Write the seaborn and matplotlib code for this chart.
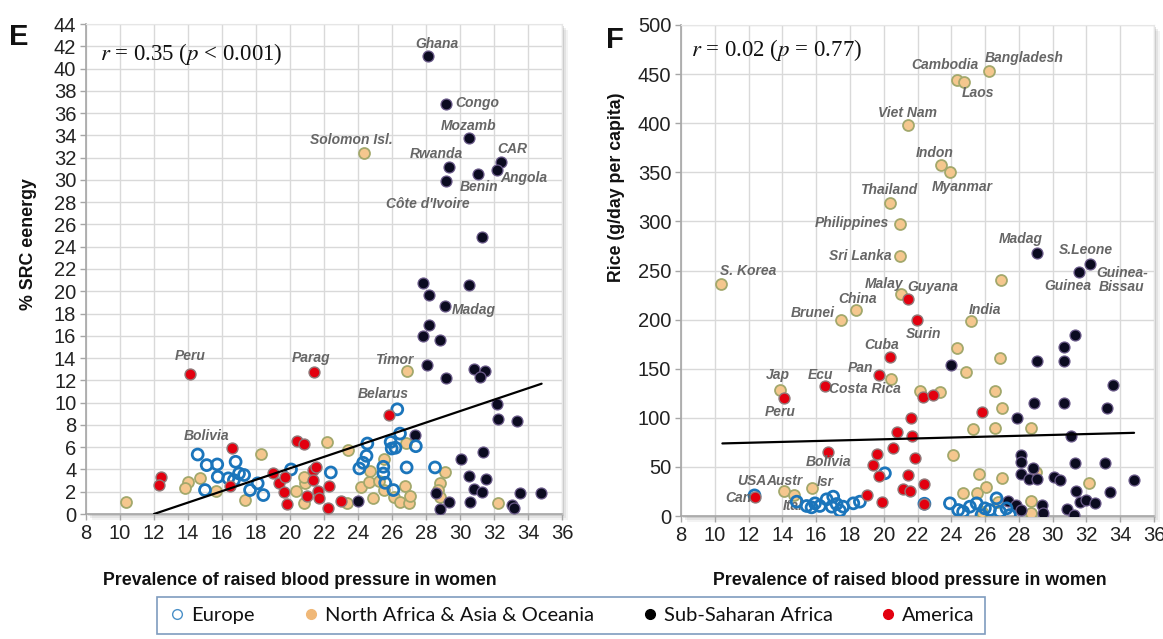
import numpy as np
import pandas as pd
import matplotlib
matplotlib.use("Agg")
import matplotlib.pyplot as plt
import seaborn as sns
from matplotlib.lines import Line2D
from matplotlib.patches import Rectangle

# ---------------- DATA: panel E (% SRC energy) ----------------
E_eur_x = [14.57, 15.1, 15.72, 16.8, 15.75, 16.37, 17.0, 17.3, 16.7, 15.0, 17.65, 18.1, 18.43, 20.06, 22.4,
           26.31, 26.47, 25.92, 24.55, 24.5, 25.98, 26.2, 27.4, 24.08, 25.49, 25.49, 26.86, 28.53, 26.08, 24.3, 25.6]
E_eur_y = [5.34, 4.39, 4.45, 4.69, 3.34, 3.2, 3.64, 3.5, 3.04, 2.15, 2.15, 2.75, 1.7, 4.0, 3.73,
           9.4, 7.22, 6.47, 6.33, 5.22, 5.88, 5.95, 6.09, 4.09, 4.24, 3.64, 4.18, 4.18, 2.15, 4.6, 2.8]

E_asia_x = [24.34, 26.86, 10.33, 14.02, 13.82, 14.7, 15.65, 17.35, 18.27, 22.16, 23.43, 20.33, 20.88, 20.84,
            20.85, 23.33, 25.53, 24.7, 24.18, 24.66, 25.25, 25.5, 24.9, 26.12, 26.76, 26.47, 27.0, 27.06,
            26.82, 28.82, 28.7, 29.1, 32.25, 28.8]
E_asia_y = [32.4, 12.8, 1.1, 2.9, 2.3, 3.2, 2.1, 1.3, 5.4, 6.5, 5.75, 2.06, 2.75, 0.96,
            3.3, 1.0, 4.9, 3.85, 2.45, 2.9, 2.98, 2.2, 1.4, 1.55, 2.5, 1.1, 0.96, 1.6,
            6.38, 2.75, 2.15, 3.79, 0.96, 1.5]

E_ssa_x = [28.1, 29.2, 30.5, 32.4, 32.2, 29.35, 31.05, 29.2, 31.3, 27.8, 30.55, 28.2, 29.1, 28.2, 27.8,
           28.8, 28.05, 30.85, 31.47, 31.2, 29.2, 32.16, 32.25, 33.35, 27.35, 30.04, 31.33, 30.55, 31.5,
           30.84, 31.3, 33.5, 34.75, 28.57, 29.37, 30.6, 28.8, 33.04, 33.2, 24.0]
E_ssa_y = [41.1, 36.8, 33.8, 31.6, 30.9, 31.2, 30.5, 29.9, 24.9, 20.75, 20.6, 19.7, 18.65, 16.95, 16.0,
           15.6, 13.4, 13.0, 12.85, 12.3, 12.2, 9.9, 8.55, 8.35, 7.07, 4.9, 5.6, 3.4, 3.1,
           2.24, 1.94, 1.85, 1.85, 1.85, 1.05, 1.1, 0.42, 0.8, 0.5, 1.2]

E_am_x = [14.1, 21.43, 25.8, 16.57, 12.41, 12.29, 16.47, 20.39, 20.82, 18.98, 19.37, 19.7, 19.65, 19.8,
          21.37, 21.5, 21.37, 20.98, 21.66, 21.72, 22.25, 22.27, 23.0]
E_am_y = [12.6, 12.75, 8.93, 5.97, 3.34, 2.57, 2.5, 6.56, 6.27, 3.64, 2.75, 3.28, 1.97, 0.9,
          3.94, 4.2, 3.04, 1.61, 2.09, 1.4, 0.5, 2.5, 1.2]

E_trend_x = [12.0, 34.8]
E_trend_y = [0.0, 11.7]

E_labels = [("Ghana", 28.65, 42.2, "center"), ("Congo", 29.7, 36.9, "left"), ("Mozamb", 30.48, 34.8, "center"),
            ("Solomon Isl.", 23.6, 33.6, "center"), ("CAR", 33.05, 32.8, "center"), ("Rwanda", 28.6, 32.3, "center"),
            ("Angola", 33.75, 30.2, "center"), ("Benin", 31.15, 29.4, "center"), ("Côte d'Ivoire", 28.1, 27.8, "center"),
            ("Madag", 30.8, 18.35, "center"), ("Peru", 14.1, 14.2, "center"), ("Parag", 21.25, 14.0, "center"),
            ("Timor", 26.15, 13.8, "center"), ("Belarus", 25.5, 10.75, "center"), ("Bolivia", 15.1, 7.0, "center")]

# ---------------- DATA: panel F (Rice g/day per capita) ----------------
F_eur_x = [12.35, 14.85, 15.44, 15.93, 16.62, 17.01, 17.21, 17.6, 16.92, 16.22, 15.73, 18.2, 18.59, 17.41, 20.07,
           23.92, 24.41, 24.7, 25.1, 25.5, 25.99, 26.88, 27.27, 26.68, 25.79, 27.47, 26.28, 22.41]
F_eur_y = [21.0, 14.6, 10.2, 12.9, 17.0, 19.7, 12.2, 9.5, 9.5, 10.2, 8.8, 12.9, 14.6, 5.4, 43.5,
           12.9, 6.1, 4.4, 9.5, 12.9, 7.8, 4.4, 7.8, 18.0, 1.0, 1.0, 6.1, 12.5]

F_asia_x = [10.38, 26.23, 24.34, 24.78, 21.42, 23.41, 23.9, 20.38, 20.94, 20.94, 26.94, 21.0, 18.33, 17.45,
            25.17, 24.31, 26.88, 24.9, 20.43, 13.87, 22.14, 23.33, 26.58, 27.03, 25.26, 26.58, 28.71, 24.08,
            25.65, 26.98, 26.05, 25.5, 24.7, 26.74, 25.79, 28.71, 28.71, 32.16, 14.09, 14.69, 15.73, 29.04]
F_asia_y = [236.0, 453.0, 444.0, 442.0, 398.0, 357.0, 350.0, 318.5, 297.5, 265.0, 240.5, 226.0, 209.5, 199.3,
            198.6, 170.8, 160.6, 147.0, 139.3, 128.8, 127.3, 126.6, 127.3, 110.3, 88.3, 89.9, 89.3, 62.1,
            42.8, 38.4, 29.9, 23.1, 23.7, 14.6, 4.4, 15.6, 3.4, 33.9, 25.8, 21.4, 28.1, 45.0]

F_ssa_x = [29.08, 32.24, 31.58, 23.96, 29.1, 30.65, 31.31, 30.7, 33.56, 28.88, 30.65, 33.19, 27.87, 31.07,
           28.15, 28.11, 28.82, 28.11, 28.6, 29.1, 30.1, 30.43, 31.31, 33.08, 34.82, 31.36, 33.41, 31.62,
           32.0, 32.53, 27.38, 27.82, 28.11, 29.37, 29.44, 30.85, 31.25]
F_ssa_y = [268.3, 256.8, 248.0, 153.6, 158.0, 172.2, 184.0, 158.0, 133.2, 115.3, 114.6, 110.2, 99.3, 81.4,
           62.0, 55.3, 49.2, 42.4, 37.3, 37.3, 40.0, 36.6, 53.6, 53.6, 36.6, 25.8, 24.1, 14.6,
           16.3, 12.9, 15.6, 11.2, 6.1, 11.2, 3.4, 6.8, 1.0]

F_am_x = [21.42, 21.97, 20.38, 19.72, 16.5, 14.09, 22.35, 22.92, 25.84, 21.6, 20.8, 21.7, 20.54, 21.86,
          19.61, 19.39, 19.72, 21.42, 21.13, 21.58, 22.37, 18.99, 19.87, 22.41, 16.68, 12.37]
F_am_y = [221.4, 199.3, 162.0, 143.4, 132.2, 119.7, 121.4, 123.7, 105.4, 100.0, 85.8, 81.4, 68.8, 59.3,
          62.7, 51.9, 41.0, 41.7, 27.1, 25.8, 32.5, 21.4, 14.6, 12.2, 64.7, 19.7]

F_trend_x = [10.45, 34.82]
F_trend_y = [73.9, 84.7]

F_labels = [("Bangladesh", 28.3, 466.8, "center"), ("Cambodia", 23.63, 459.3, "center"), ("Laos", 25.57, 431.1, "center"),
            ("Viet Nam", 21.42, 410.1, "center"), ("Indon", 23.01, 370.0, "center"), ("Myanmar", 24.62, 334.8, "center"),
            ("Thailand", 20.32, 332.1, "center"), ("Philippines", 20.3, 298.8, "right"), ("Sri Lanka", 20.45, 264.9, "right"),
            ("Madag", 28.11, 281.9, "center"), ("S.Leone", 31.97, 271.0, "center"), ("Guinea-\nBissau", 34.1, 240.5, "center"),
            ("Guinea", 30.91, 234.4, "center"), ("S. Korea", 11.97, 249.0, "center"), ("Malay", 20.03, 236.4, "center"),
            ("Guyana", 22.92, 233.0, "center"), ("China", 18.44, 221.4, "center"), ("Brunei", 15.79, 207.1, "center"),
            ("India", 26.01, 210.2, "center"), ("Surin", 22.35, 185.8, "center"), ("Cuba", 19.88, 173.9, "center"),
            ("Pan", 18.6, 151.2, "center"), ("Jap", 13.76, 143.4, "center"), ("Ecu", 16.24, 143.4, "center"),
            ("Costa Rica", 18.88, 129.2, "center"), ("Peru", 13.85, 106.1, "center"), ("Bolivia", 16.74, 55.3, "center"),
            ("USA", 12.19, 35.9, "center"), ("Austr", 14.14, 35.9, "center"), ("Isr", 16.52, 34.9, "center"),
            ("Can", 11.38, 18.0, "center"), ("Ital", 14.6, 10.0, "center")]

E_xticks = list(range(8, 37, 2))
E_yticks = list(range(0, 45, 2))
F_xticks = list(range(8, 37, 2))
F_yticks = list(range(0, 501, 50))

group_names = ["Europe", "North Africa & Asia & Oceania", "Sub-Saharan Africa", "America"]

# ---------------- STYLE ----------------
sns.set_theme(style="white")
plt.rcParams['font.family'] = ['Liberation Sans', 'DejaVu Sans']
plt.rcParams['mathtext.fontset'] = 'stix'

NARROW = ['Liberation Sans Narrow', 'Liberation Sans', 'DejaVu Sans']
BLUE = '#1B75BB'
TAN = '#F5C78E'
TAN_EDGE = '#A3A86C'
BLACK = '#0b0b20'
BLACK_EDGE = '#6b5b8a'
RED = '#E3000F'
RED_EDGE = '#8f7a7a'
GRID = '#d9d9d9'
LABEL_C = '#666666'
S = 62

W, H = 1163, 639
fig = plt.figure(figsize=(W / 100, H / 100), dpi=100)
fig.patch.set_facecolor('white')


def px_rect(left, top, right, bottom):
    return [left / W, 1 - bottom / H, (right - left) / W, (bottom - top) / H]


def add_shadow(rect):
    x0, y0, w, h = rect
    for off, a in [(6, 0.10), (4, 0.15), (2, 0.25)]:
        fig.patches.append(Rectangle((x0 + off / W, y0 - off / H), w, h, transform=fig.transFigure,
                                     facecolor='#8a8a8a', edgecolor='none', alpha=a, zorder=0))


def setup_axes(ax, xticks, yticks, xlim, ylim):
    ax.set_xlim(*xlim)
    ax.set_ylim(*ylim)
    ax.set_xticks(xticks)
    ax.set_yticks(yticks)
    ax.set_axisbelow(True)
    ax.grid(True, color=GRID, lw=1.0)
    for side in ['left', 'bottom']:
        ax.spines[side].set_color('#a6a6a6')
        ax.spines[side].set_linewidth(1.2)
    for side in ['top', 'right']:
        ax.spines[side].set_color('#e6e6e6')
        ax.spines[side].set_linewidth(0.8)
    ax.tick_params(axis='both', direction='out', length=4, width=1, color='#a6a6a6',
                   labelsize=14.5, labelcolor='#222222', pad=3,
                   bottom=True, left=True)
    for lab in ax.get_xticklabels() + ax.get_yticklabels():
        lab.set_family(NARROW)


def scatter_groups(ax, eur, asia, ssa, am):
    d = pd.DataFrame({'x': asia[0], 'y': asia[1]})
    sns.scatterplot(data=d, x='x', y='y', ax=ax, s=S, color=TAN, edgecolor=TAN_EDGE, linewidth=1.3, zorder=3, legend=False)
    d = pd.DataFrame({'x': ssa[0], 'y': ssa[1]})
    sns.scatterplot(data=d, x='x', y='y', ax=ax, s=S, color=BLACK, edgecolor=BLACK_EDGE, linewidth=0.9, zorder=4, legend=False)
    d = pd.DataFrame({'x': eur[0], 'y': eur[1]})
    sns.scatterplot(data=d, x='x', y='y', ax=ax, s=S, color='none', edgecolor=BLUE, linewidth=2.0, zorder=5, legend=False)
    d = pd.DataFrame({'x': am[0], 'y': am[1]})
    sns.scatterplot(data=d, x='x', y='y', ax=ax, s=S, color=RED, edgecolor=RED_EDGE, linewidth=1.0, zorder=6, legend=False)


def add_labels(ax, labels):
    for txt, x, y, ha in labels:
        ax.text(x, y, txt, ha=ha, va='center', family=NARROW, style='italic', weight='bold',
                color=LABEL_C, fontsize=10, zorder=2 if txt == 'Ital' else 7, linespacing=1.0)


# ---------------- PANEL E ----------------
rectE = px_rect(86, 24, 562, 514)
add_shadow(rectE)
axE = fig.add_axes(rectE)
axE.set_zorder(1)
setup_axes(axE, E_xticks, E_yticks, (8, 36), (0, 44))
scatter_groups(axE, (E_eur_x, E_eur_y), (E_asia_x, E_asia_y), (E_ssa_x, E_ssa_y), (E_am_x, E_am_y))
sns.lineplot(x=E_trend_x, y=E_trend_y, ax=axE, color='black', lw=1.6, zorder=8)
add_labels(axE, E_labels)
axE.text(0.03, 0.938, r'$r$ = 0.35 ($p$ < 0.001)', transform=axE.transAxes, ha='left', va='center',
         family='Liberation Serif', fontsize=16.5, color='#111111', zorder=9)
axE.set_xlabel('Prevalence of raised blood pressure in women', fontsize=12.8, weight='bold', color='#111111')
axE.set_ylabel('% SRC eenergy', fontsize=12.8, weight='bold', color='#111111')
axE.xaxis.set_label_coords(0.45, -0.118)
axE.yaxis.set_label_coords(-0.103, 0.55)

# ---------------- PANEL F ----------------
rectF = px_rect(681, 25, 1154, 516)
add_shadow(rectF)
axF = fig.add_axes(rectF)
axF.set_zorder(1)
setup_axes(axF, F_xticks, F_yticks, (8, 36), (0, 500))
scatter_groups(axF, (F_eur_x, F_eur_y), (F_asia_x, F_asia_y), (F_ssa_x, F_ssa_y), (F_am_x, F_am_y))
sns.lineplot(x=F_trend_x, y=F_trend_y, ax=axF, color='black', lw=1.6, zorder=8)
add_labels(axF, F_labels)
axF.text(0.022, 0.949, r'$r$ = 0.02 ($p$ = 0.77)', transform=axF.transAxes, ha='left', va='center',
         family='Liberation Serif', fontsize=16.5, color='#111111', zorder=9)
axF.set_xlabel('Prevalence of raised blood pressure in women', fontsize=12.8, weight='bold', color='#111111')
axF.set_ylabel('Rice (g/day per capita)', fontsize=12.8, weight='bold', color='#111111')
axF.xaxis.set_label_coords(0.484, -0.115)
axF.yaxis.set_label_coords(-0.118, 0.67)

# panel letters
fig.text(18.5 / W, 1 - 37 / H, 'E', ha='center', va='center', fontsize=21, weight='bold', color='#111111')
fig.text(615 / W, 1 - 40 / H, 'F', ha='center', va='center', fontsize=21, weight='bold', color='#111111')

# ---------------- LEGEND ----------------
handles = [
    Line2D([], [], ls='none', marker='o', markersize=7, markerfacecolor='none', markeredgecolor='#4a90c8', markeredgewidth=1.0),
    Line2D([], [], ls='none', marker='o', markersize=7, markerfacecolor='#F0B878', markeredgecolor='#F0B878'),
    Line2D([], [], ls='none', marker='o', markersize=7, markerfacecolor='black', markeredgecolor='black'),
    Line2D([], [], ls='none', marker='o', markersize=7, markerfacecolor=RED, markeredgecolor=RED),
]
leg = fig.legend(handles, group_names, loc='lower left', ncol=4, mode='expand',
                 bbox_to_anchor=(157 / W, (H - 634) / H, 828 / W, 42 / H),
                 frameon=True, fancybox=False, edgecolor='#7f9cbf', framealpha=1,
                 prop={'family': ['Lato', 'DejaVu Sans'], 'size': 14.5},
                 handletextpad=0.2, handlelength=1.0, borderpad=0.5, borderaxespad=0)
leg.get_frame().set_linewidth(1.2)
for t in leg.get_texts():
    t.set_color('#111111')

fig.savefig('out.png', dpi=100, facecolor='white')
